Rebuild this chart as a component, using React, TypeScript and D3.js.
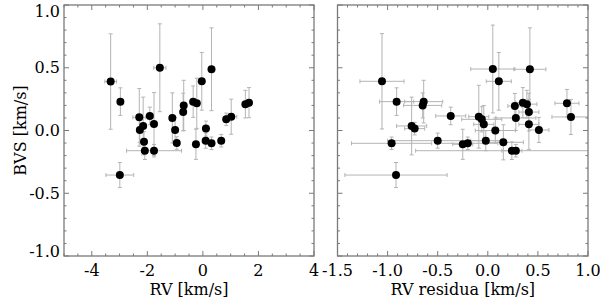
import * as d3 from "d3";

// left panel: BVS vs RV
const rvX = [-3.32, -2.97, -1.55, -2.29, -2.15, -2.27, -1.91, -1.76, -2.12, -2.09, -1.76, -2.99, -1.10, -1.00, -0.94, -0.69, -0.71, -0.35, -0.22, -0.04, 0.31, -0.25, 0.11, 0.10, 0.31, 0.66, 0.84, 1.02, 1.53, 1.66];
const rvY = [0.39, 0.23, 0.50, 0.105, 0.036, 0.004, 0.116, 0.052, -0.089, -0.161, -0.161, -0.355, 0.10, 0.004, -0.10, 0.20, 0.147, 0.23, 0.217, 0.392, 0.488, -0.11, 0.015, -0.081, -0.102, -0.081, 0.089, 0.11, 0.21, 0.222];
const rvXErr = [0.21, 0.05, 0.22, 0.23, 0.05, 0.05, 0.13, 0.05, 0.1, 0.05, 0.99, 0.5, 0.05, 0.05, 0.05, 0.05, 0.05, 0.05, 0.05, 0.05, 0.05, 0.05, 0.05, 0.1, 0.05, 0.05, 0.05, 0.2, 0.05, 0.05];
const rvYErr = [0.38, 0.11, 0.35, 0.23, 0.23, 0.10, 0.07, 0.25, 0.08, 0.07, 0.05, 0.1, 0.2, 0.1, 0.05, 0.2, 0.15, 0.125, 0.2, 0.23, 0.33, 0.12, 0.06, 0.06, 0.05, 0.05, 0.05, 0.14, 0.11, 0.12];

// right panel: BVS vs RV residua
const resX = [-1.056, -0.91, -0.64, -0.65, -0.76, -0.73, -0.37, 0.05, 0.11, 0.42, -0.09, -0.06, -0.04, 0.075, 0.27, 0.35, 0.39, 0.41, 0.28, 0.41, 0.51, 0.79, 0.83, -0.96, -0.50, -0.25, -0.20, -0.02, 0.155, -0.916, 0.24, 0.28];
const resY = [0.392, 0.23, 0.23, 0.20, 0.036, 0.015, 0.116, 0.49, 0.392, 0.488, 0.11, 0.089, 0.049, 0.0, 0.195, 0.222, 0.21, 0.147, 0.10, 0.049, 0.004, 0.217, 0.108, -0.102, -0.081, -0.11, -0.102, -0.081, -0.094, -0.355, -0.161, -0.161];
const resXErr = [0.22, 0.17, 0.19, 0.19, 0.15, 0.1, 0.15, 0.22, 0.125, 0.16, 0.1, 0.2, 0.1, 0.2, 0.07, 0.07, 0.1, 0.1, 0.2, 0.1, 0.1, 0.12, 0.19, 0.4, 0.5, 0.1, 0.3, 0.15, 0.2, 0.51, 0.1, 1.0];
const resYErr = [0.38, 0.11, 0.17, 0.1, 0.23, 0.05, 0.07, 0.35, 0.23, 0.33, 0.25, 0.1, 0.15, 0.1, 0.1, 0.12, 0.11, 0.15, 0.1, 0.2, 0.1, 0.11, 0.14, 0.05, 0.06, 0.12, 0.05, 0.08, 0.14, 0.1, 0.07, 0.05];

const leftXTicks = [-4, -2, 0, 2, 4];
const rightXTicks = ["-1.5", "-1.0", "-0.5", "0.0", "0.5", "1.0"];
const yTicks = ["-1.0", "-0.5", "0.0", "0.5", "1.0"];

const W = 600;
const H = 303;
const top = 5;
const bottom = 256;
const font = "'DejaVu Serif', serif";
const axisColor = "#7a7a7a";
const errColor = "#b4b4b4";

const y = d3.scaleLinear().domain([-1, 1]).range([bottom, top]);

interface PanelProps {
  id: string;
  x: d3.ScaleLinear<number, number>;
  xs: number[];
  ys: number[];
  xerr: number[];
  yerr: number[];
  xMajor: number[];
  xLabels: string[];
  xMinorStep: number;
  title: string;
  showY: boolean;
}

function Panel({ id, x, xs, ys, xerr, yerr, xMajor, xLabels, xMinorStep, title, showY }: PanelProps) {
  const [x0, x1] = x.range();
  const [d0, d1] = x.domain();
  const xMinor = d3.range(d0, d1 + 1e-9, xMinorStep);
  const yMinor = d3.range(-1, 1 + 1e-9, 0.1);
  const yMajor = yTicks.map(Number);
  const cap = 2;
  return (
    <g>
      <defs>
        <clipPath id={id}>
          <rect x={x0} y={top} width={x1 - x0} height={bottom - top} />
        </clipPath>
      </defs>
      <g clipPath={`url(#${id})`}>
        {xs.map((v, i) => {
          const cx = x(v);
          const cy = y(ys[i]);
          const xa = x(v - xerr[i]);
          const xb = x(v + xerr[i]);
          const ya = y(ys[i] - yerr[i]);
          const yb = y(ys[i] + yerr[i]);
          return (
            <g key={"e" + i} stroke={errColor} strokeWidth={1} fill="none">
              <line x1={xa} x2={xb} y1={cy} y2={cy} />
              <line x1={xa} x2={xa} y1={cy - cap} y2={cy + cap} />
              <line x1={xb} x2={xb} y1={cy - cap} y2={cy + cap} />
              <line x1={cx} x2={cx} y1={ya} y2={yb} />
              <line x1={cx - cap} x2={cx + cap} y1={ya} y2={ya} />
              <line x1={cx - cap} x2={cx + cap} y1={yb} y2={yb} />
            </g>
          );
        })}
        {xs.map((v, i) => (
          <circle key={"p" + i} cx={x(v)} cy={y(ys[i])} r={4} fill="#000" />
        ))}
      </g>
      <g stroke={axisColor} strokeWidth={1}>
        {xMinor.map((t, i) => {
          const major = xMajor.some((m) => Math.abs(m - t) < 1e-6);
          const len = major ? 5 : 2.5;
          return (
            <g key={"xt" + i}>
              <line x1={x(t)} x2={x(t)} y1={bottom} y2={bottom - len} />
              <line x1={x(t)} x2={x(t)} y1={top} y2={top + len} />
            </g>
          );
        })}
        {yMinor.map((t, i) => {
          const major = yMajor.some((m) => Math.abs(m - t) < 1e-6);
          const len = major ? 5 : 2.5;
          return (
            <g key={"yt" + i}>
              <line x1={x0} x2={x0 + len} y1={y(t)} y2={y(t)} />
              <line x1={x1} x2={x1 - len} y1={y(t)} y2={y(t)} />
            </g>
          );
        })}
        <rect x={x0} y={top} width={x1 - x0} height={bottom - top} fill="none" strokeWidth={1.3} />
      </g>
      <g fontFamily={font} fontSize={16} fill="#000">
        {xMajor.map((t, i) => (
          <text key={"xl" + i} x={x(t)} y={276} textAnchor="middle">
            {xLabels[i]}
          </text>
        ))}
        <text x={(x0 + x1) / 2} y={295} textAnchor="middle">
          {title}
        </text>
        {showY &&
          yMajor.map((t, i) => (
            <text
              key={"yl" + i}
              x={x0 - 4}
              y={Math.min(Math.max(y(t) + 5.5, top + 11.5), bottom + 0.5)}
              textAnchor="end"
            >
              {yTicks[i]}
            </text>
          ))}
      </g>
    </g>
  );
}

export default function App() {
  const xLeft = d3.scaleLinear().domain([-5, 4]).range([64, 314]);
  const xRight = d3.scaleLinear().domain([-1.5, 1.0]).range([337.5, 588]);
  return (
    <svg width={W} height={H} style={{ position: "absolute", left: 0, top: 0, background: "#fff" }}>
      <Panel
        id="clipL"
        x={xLeft}
        xs={rvX}
        ys={rvY}
        xerr={rvXErr}
        yerr={rvYErr}
        xMajor={leftXTicks}
        xLabels={leftXTicks.map(String)}
        xMinorStep={0.5}
        title="RV [km/s]"
        showY={true}
      />
      <Panel
        id="clipR"
        x={xRight}
        xs={resX}
        ys={resY}
        xerr={resXErr}
        yerr={resYErr}
        xMajor={rightXTicks.map(Number)}
        xLabels={rightXTicks}
        xMinorStep={0.1}
        title="RV residua [km/s]"
        showY={false}
      />
      <text
        transform={`translate(26, ${(top + bottom) / 2}) rotate(-90)`}
        textAnchor="middle"
        fontFamily={font}
        fontSize={16}
        fill="#000"
      >
        BVS [km/s]
      </text>
    </svg>
  );
}
